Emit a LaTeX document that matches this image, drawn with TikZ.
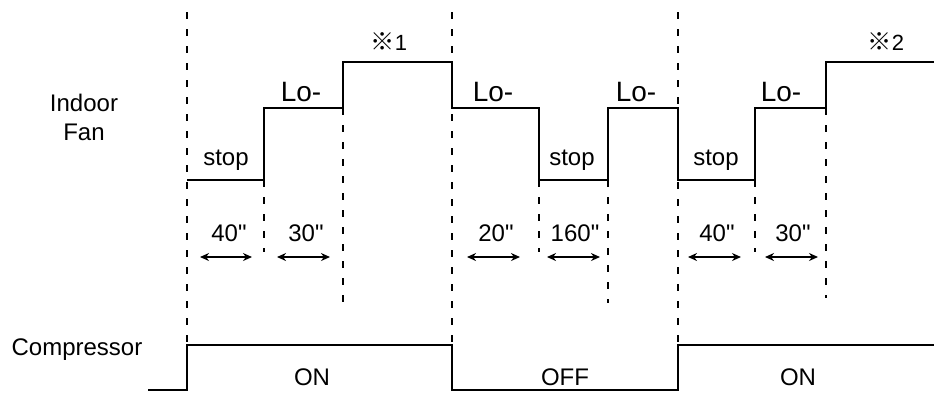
\documentclass[tikz,border=0pt]{standalone}
\usepackage{fontspec}
\setmainfont{Liberation Sans}[Ligatures=TeXOff]
\newfontfamily\cjk{Noto Sans CJK JP}[Scale=1.1]
\usetikzlibrary{arrows.meta,positioning}

\tikzset{
  wave/.style={line width=2pt, line join=miter},
  guide/.style={line width=1.7pt, dash pattern=on 7pt off 10pt},
  span/.style={line width=1.5pt,
    {Stealth[length=9pt,width=8pt]}-{Stealth[length=9pt,width=8pt]}},
  lbl/.style={font=\fontsize{24}{24}\selectfont, anchor=base, inner sep=0pt},
  lvl/.style={font=\fontsize{28}{28}\selectfont, anchor=base, inner sep=0pt},
  note/.style={font=\fontsize{22}{22}\selectfont, anchor=base, inner sep=0pt},
}

\begin{document}
\begin{tikzpicture}[x=1pt,y=-1pt]
  \useasboundingbox (0,0) rectangle (934,392);

  %% ── dashed guides ───────────────────────────

  %% full height (compressor switching)
  \foreach \gx in {187,452,678}{
    \draw[guide] (\gx,12) -- (\gx,345);
  }

  %% short guides below stop level
  \foreach \gx in {264,539,755}{
    \draw[guide] (\gx,180) -- (\gx,252);
  }

  %% long guides below steps
  \draw[guide] (343,108) -- (343,304);
  \draw[guide] (608,180) -- (608,303);
  \draw[guide] (826,108) -- (826,298);

  %% ── indoor fan waveform ─────────────────────
  \draw[wave] (187,180) -- (264,180) -- (264,108) -- (343,108)
    -- (343,62) -- (452,62) -- (452,108) -- (539,108)
    -- (539,180) -- (608,180) -- (608,108) -- (678,108)
    -- (678,180) -- (755,180) -- (755,108) -- (826,108)
    -- (826,62) -- (934,62);

  %% ── compressor waveform ─────────────────────
  \draw[wave] (148,390) -- (187,390) -- (187,345) -- (452,345)
    -- (452,390) -- (678,390) -- (678,345) -- (934,345);

  %% ── row titles ──────────────────────────────
  \node[lbl] (fan1) at (84,111) {Indoor};
  \node[lbl] (fan2) at (84,140) {Fan};
  \node[lbl] (comp) at (77,355) {Compressor};

  %% ── fan levels ──────────────────────────────
  \foreach \lx [count=\k] in {301,493,636,781}{
    \node[lvl] (lo\k) at (\lx,101) {Lo-};
  }
  \foreach \sx [count=\k] in {226,572,716}{
    \node[lbl] (stop\k) at (\sx,165) {stop};
  }
  \node[note] (mark1) at (389,50) {{\cjk ※}1};
  \node[note] (mark2) at (886,50) {{\cjk ※}2};

  %% ── durations ───────────────────────────────
  \foreach \ax/\bx/\cx/\t [count=\k] in
      {200/252/229/40", 277/330/306/30", 467/520/496/20",
       547/600/575/160", 688/741/717/40", 765/818/793/30"}{
    \draw[span] (\ax,257) -- (\bx,257);
    \node[lbl] (dur\k) at (\cx,241) {\t};
  }

  %% ── compressor states ───────────────────────
  \node[lbl] (on1) at (312,385) {ON};
  \node[lbl] (off) at (565,385) {OFF};
  \node[lbl] (on2) at (798,385) {ON};

\end{tikzpicture}
\end{document}
